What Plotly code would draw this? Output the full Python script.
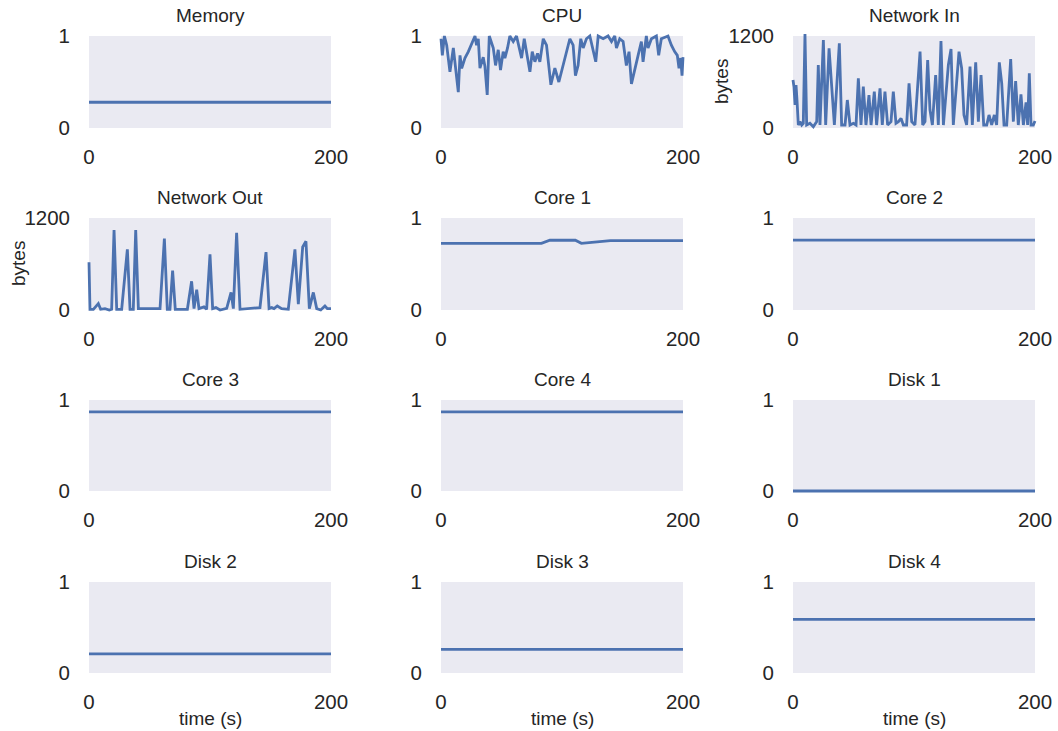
import plotly.graph_objects as go
from plotly.subplots import make_subplots

# ---------------- data ----------------
titles = ["Memory", "CPU", "Network In", "Network Out", "Core 1", "Core 2",
          "Core 3", "Core 4", "Disk 1", "Disk 2", "Disk 3", "Disk 4"]

t_span = [0, 200]

memory = [0.28, 0.28]
core2 = [0.76, 0.76]
core3 = [0.87, 0.87]
core4 = [0.87, 0.87]
disk1 = [0.0, 0.0]
disk2 = [0.21, 0.21]
disk3 = [0.26, 0.26]
disk4 = [0.59, 0.59]

core1_t = [0, 83, 90, 111, 116, 140, 200]
core1 = [0.725, 0.725, 0.758, 0.758, 0.725, 0.755, 0.755]

cpu_t = [0, 1.1, 2.8, 4.7, 7.4, 10.2, 14.3, 15.7, 17.1, 19.8, 22.6, 24.8, 28.1, 29.4,
         30.8, 32.2, 34.9, 36.3, 38.2, 39.9, 43.2, 45.1, 47.3, 49.2, 51.4, 52.8, 55.0,
         56.9, 59.7, 62.4, 66.6, 68.8, 70.7, 73.5, 75.4, 77.6, 79.8, 81.7, 84.5, 87.2,
         90.8, 94.1, 97.4, 99.6, 102.3, 104.3, 106.5, 109.2, 111.1, 113.3, 115.5, 117.5,
         120.2, 123.0, 127.9, 129.9, 134.0, 138.1, 140.9, 143.6, 145.0, 147.7, 150.5,
         153.2, 155.4, 157.4, 160.1, 162.9, 165.6, 167.0, 169.7, 171.1, 173.9, 178.0,
         179.9, 182.1, 187.6, 190.4, 193.1, 195.3, 196.7, 198.1, 199.2, 200]
cpu = [0.97, 0.79, 1.0, 0.90, 0.61, 0.87, 0.39, 0.79, 0.65, 0.76, 0.83, 0.90, 1.0, 0.90,
       0.97, 0.65, 0.77, 0.67, 0.36, 1.0, 0.87, 0.68, 0.85, 0.63, 0.83, 0.76, 0.87,
       1.0, 0.94, 1.0, 0.76, 0.97, 0.83, 0.61, 0.83, 0.72, 0.81, 0.72, 0.97, 0.90,
       0.47, 0.65, 0.50, 0.61, 0.76, 0.87, 0.97, 0.90, 0.57, 0.68, 0.97, 0.87,
       0.97, 1.0, 0.72, 1.0, 0.97, 1.0, 0.94, 1.0, 0.87, 0.97, 0.94,
       0.68, 0.83, 0.48, 0.65, 0.79, 0.94, 0.72, 1.0, 0.87, 0.97, 1.0,
       0.79, 0.97, 1.0, 0.90, 0.83, 0.79, 0.65, 0.76, 0.57, 0.77]

net_in_t = [0, 0.8, 1.7, 2.5, 3.3, 4.4, 5.8, 7.2, 8.5, 9.9, 11.3, 14.0, 16.8, 19.6, 20.9,
            22.3, 25.1, 27.0, 29.8, 32.0, 34.2, 38.3, 40.2, 43.0, 44.9, 47.1, 49.9, 52.1,
            54.0, 56.2, 58.1, 60.3, 62.8, 64.5, 67.2, 69.1, 71.9, 73.8, 76.0, 78.2, 81.0,
            82.9, 85.1, 87.1, 89.3, 91.2, 93.9, 95.9, 98.1, 100.8, 103.6, 105.0, 107.2,
            109.1, 111.3, 113.2, 115.2, 117.9, 120.1, 122.3, 124.3, 128.4, 130.6, 132.5,
            137.2, 139.4, 141.3, 143.5, 146.3, 148.2, 151.0, 153.2, 155.4, 157.6, 160.1,
            162.0, 164.2, 166.4, 168.3, 170.5, 172.5, 174.4, 176.6, 179.9, 182.1, 184.0,
            186.2, 188.4, 190.4, 192.6, 193.9, 195.3, 196.7, 198.6, 200]
net_in = [626, 539, 300, 561, 365, 39, 83, 39, 61, 1225, 39, 61, 17, 83, 822,
          39, 1148, 39, 1039, 539, 39, 1104, 39, 39, 365, 39, 61, 39,
          648, 39, 539, 39, 430, 39, 474, 39, 517, 39, 474, 39, 83,
          474, 61, 83, 126, 39, 39, 583, 83, 39, 691, 996, 39,
          83, 887, 235, 39, 691, 39, 1135, 39, 822, 1030, 39,
          996, 778, 170, 39, 800, 39, 857, 83, 691, 39, 39,
          170, 39, 170, 39, 857, 583, 39, 39, 900, 83, 613,
          39, 439, 39, 335, 39, 713, 39, 39, 91]

net_out_t = [0, 0.8, 3.6, 7.7, 9.6, 13.2, 16.8, 18.7, 20.7, 22.9, 27.0, 31.7, 33.9, 36.6,
             38.6, 40.8, 47.7, 58.7, 62.3, 64.7, 66.9, 69.1, 71.3, 78.0, 81.3, 84.8, 86.8,
             89.0, 90.9, 95.0, 97.2, 100.0, 102.2, 104.9, 108.3, 113.8, 117.4, 119.3, 122.0,
             124.8, 130.3, 141.3, 146.3, 148.8, 151.0, 152.9, 155.6, 159.2, 164.7, 170.2,
             173.0, 176.6, 179.3, 182.1, 185.4, 188.2, 191.5, 195.0, 197.0, 200]
net_out = [624, 9, 9, 84, 9, 18, 0, 9, 1042, 9, 9, 791, 9, 9,
           1042, 18, 18, 18, 932, 9, 9, 514, 9, 9, 9, 374, 18,
           264, 18, 40, 9, 725, 18, 31, 0, 22, 229, 18, 1007,
           9, 18, 31, 756, 18, 31, 18, 53, 18, 9, 791,
           75, 822, 897, 18, 229, 18, 0, 53, 18, 18]

series = [
    (t_span, memory), (cpu_t, cpu), (net_in_t, net_in),
    (net_out_t, net_out), (core1_t, core1), (t_span, core2),
    (t_span, core3), (t_span, core4), (t_span, disk1),
    (t_span, disk2), (t_span, disk3), (t_span, disk4),
]
byte_panels = {"Network In", "Network Out"}

# ---------------- layout ----------------
W, H = 1058, 731
col_px = [(89, 331), (441, 683), (793, 1035)]
row_px = [(36, 128), (218, 310), (400, 491), (582, 673)]
PAD = 3  # extra px around the shaded area so lines are not clipped

LINE = "#4C72B0"
BG = "#EAEAF2"
TXT = "#262626"
FONT = "Liberation Sans, Arial, sans-serif"
FS = 20.5
TFS = 19

fig = make_subplots(rows=4, cols=3)

for i, (title, (tx, vy)) in enumerate(zip(titles, series)):
    r, c = i // 3 + 1, i % 3 + 1
    fig.add_trace(go.Scatter(x=tx, y=vy, mode="lines",
                             line=dict(color=LINE, width=2.8),
                             showlegend=False, hoverinfo="skip"), row=r, col=c)
    x0, x1 = col_px[c - 1]
    y0, y1 = row_px[r - 1]
    ymax = 1200 if title in byte_panels else 1
    dx = PAD * 200 / (x1 - x0)
    dy = PAD * ymax / (y1 - y0)
    fig.update_xaxes(domain=[(x0 - PAD) / W, (x1 + PAD) / W], range=[-dx, 200 + dx],
                     tickvals=[0, 200],
                     showgrid=False, zeroline=False, showline=False, ticks="",
                     automargin=False,
                     ticklabelstandoff=14 - PAD, tickfont=dict(size=FS, color=TXT, family=FONT),
                     row=r, col=c)
    fig.update_yaxes(domain=[1 - (y1 + PAD) / H, 1 - (y0 - PAD) / H], range=[-dy, ymax + dy],
                     tickvals=[0, ymax], showgrid=False, zeroline=False,
                     showline=False, ticks="", ticklabelstandoff=18 - PAD,
                     automargin=False,
                     tickfont=dict(size=FS, color=TXT, family=FONT),
                     row=r, col=c)
    fig.add_shape(type="rect", x0=0, x1=200, y0=0, y1=ymax, row=r, col=c,
                  fillcolor=BG, line=dict(width=0), layer="below")
    # subplot title
    fig.add_annotation(text=title, x=(x0 + x1) / 2 / W, y=1 - (y0 - 8) / H,
                       xref="paper", yref="paper", xanchor="center", yanchor="bottom",
                       showarrow=False, font=dict(size=TFS, color=TXT, family=FONT))
    if title in byte_panels:
        fig.add_annotation(text="bytes", x=(x0 - 71) / W, y=1 - ((y0 + y1) / 2) / H,
                           xref="paper", yref="paper", xanchor="center", yanchor="middle",
                           textangle=-90, showarrow=False,
                           font=dict(size=TFS, color=TXT, family=FONT))
    if r == 4:
        fig.add_annotation(text="time (s)", x=(x0 + x1) / 2 / W, y=1 - 718 / H,
                           xref="paper", yref="paper", xanchor="center", yanchor="middle",
                           showarrow=False, font=dict(size=TFS, color=TXT, family=FONT))

fig.update_layout(width=W, height=H, margin=dict(l=0, r=0, t=0, b=0, autoexpand=False),
                  plot_bgcolor="white", paper_bgcolor="white",
                  font=dict(family=FONT, color=TXT), hovermode=False)

fig.write_html("out.html",
               config={"displayModeBar": False, "staticPlot": True},
               post_script="document.body.style.margin='0';"
                           "document.body.style.overflow='hidden';")
